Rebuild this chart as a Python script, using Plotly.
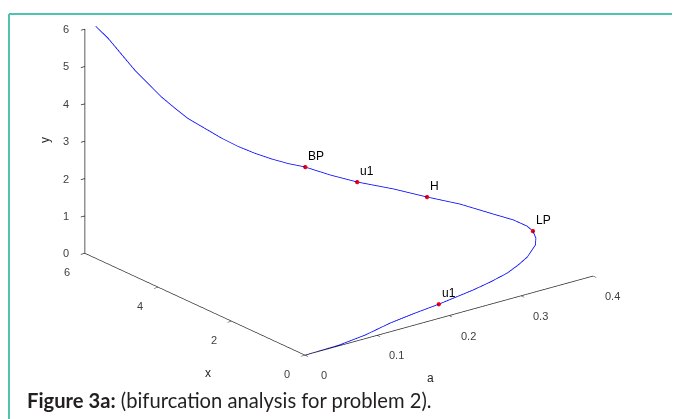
import plotly.graph_objects as go

# curve: parameter a, state x, state y
a_vals = [0.0, 0.047, 0.086, 0.125, 0.162, 0.197, 0.248, 0.275, 0.302, 0.321, 0.338,
          0.357, 0.363, 0.365, 0.362, 0.351, 0.332, 0.301, 0.268, 0.235, 0.198,
          0.172, 0.149, 0.132, 0.116, 0.101, 0.087, 0.074, 0.062, 0.050, 0.043,
          0.036, 0.031, 0.026, 0.023, 0.020, 0.015]
x_vals = [0.0, 0.01, 0.055, 0.135, 0.184, 0.221, 0.294, 0.346, 0.413, 0.491, 0.576,
          0.729, 0.833, 0.955, 1.058, 1.211, 1.389, 1.685, 1.935, 2.204, 2.466,
          2.690, 2.92, 3.045, 3.189, 3.348, 3.522, 3.723, 3.949, 4.176, 4.388,
          4.625, 4.89, 5.154, 5.455, 5.76, 6.0]
y_vals = [0.0, 0.01, 0.055, 0.135, 0.184, 0.221, 0.294, 0.346, 0.413, 0.491, 0.576,
          0.729, 0.833, 0.955, 1.058, 1.211, 1.389, 1.685, 1.935, 2.204, 2.466,
          2.690, 2.92, 3.045, 3.189, 3.348, 3.522, 3.723, 3.949, 4.176, 4.388,
          4.625, 4.89, 5.154, 5.455, 5.76, 6.0]

# special points
pt_labels = ["BP", "u1", "H", "LP", "u1"]
pt_a = [0.149, 0.198, 0.268, 0.365, 0.197]
pt_x = [2.92, 2.466, 1.935, 0.955, 0.221]
pt_y = [2.92, 2.466, 1.935, 0.955, 0.221]

a_ticks = [0, 0.1, 0.2, 0.3, 0.4]
a_tick_text = ["0", "0.1", "0.2", "0.3", "0.4"]
x_ticks = [0, 2, 4, 6]
x_tick_text = ["0", "2", "4", "6"]
y_ticks = [0, 1, 2, 3, 4, 5, 6]
y_tick_text = ["0", "1", "2", "3", "4", "5", "6"]

OFF = 8  # page offset of the plot div

fig = go.Figure()
fig.add_trace(go.Scatter3d(x=a_vals, y=x_vals, z=y_vals, mode="lines",
                           line=dict(color="#0000ff", width=1.6), showlegend=False,
                           hoverinfo="skip"))
fig.add_trace(go.Scatter3d(x=pt_a, y=pt_x, z=pt_y, mode="markers",
                           marker=dict(color="#ff0000", size=2.5),
                           showlegend=False, hoverinfo="skip"))

tick_font = dict(family="Arial", size=11, color="#404040")
title_font = dict(family="Arial", size=12, color="#262626")

scene_annots = []
# point labels
for lab, pa, px, py in zip(pt_labels, pt_a, pt_x, pt_y):
    scene_annots.append(dict(x=pa, y=px, z=py, text=lab, showarrow=False,
                             xanchor="left", yanchor="bottom", xshift=1, yshift=2,
                             font=dict(family="Arial", size=12, color="#000000")))
# tick labels (anchored at the tick values on each axis)
for v, s in zip(a_ticks, a_tick_text):
    scene_annots.append(dict(x=v, y=0, z=0, text=s, showarrow=False,
                             xanchor="center", yanchor="middle", xshift=19, yshift=-20,
                             font=tick_font))
for v, s in zip(x_ticks, x_tick_text):
    scene_annots.append(dict(x=0, y=v, z=0, text=s, showarrow=False,
                             xanchor="center", yanchor="middle", xshift=-18, yshift=-19,
                             font=tick_font))
for v, s in zip(y_ticks, y_tick_text):
    scene_annots.append(dict(x=0, y=6, z=v, text=s, showarrow=False,
                             xanchor="right", yanchor="middle", xshift=-14, yshift=0,
                             font=tick_font))
# axis titles
scene_annots.append(dict(x=0.2, y=0, z=0, text="a", showarrow=False,
                         xanchor="center", yanchor="middle", xshift=-19, yshift=-62,
                         font=title_font))
scene_annots.append(dict(x=0, y=3, z=0, text="x", showarrow=False,
                         xanchor="center", yanchor="middle", xshift=13, yshift=-69,
                         font=title_font))
scene_annots.append(dict(x=0, y=6, z=3, text="y", showarrow=False, textangle=-90,
                         xanchor="center", yanchor="middle", xshift=-40, yshift=1,
                         font=title_font))

axis_common = dict(showbackground=False, showgrid=False, zeroline=False,
                   showline=True, linecolor="#262626", linewidth=1.5,
                   ticks="outside", ticklen=5, tickcolor="#262626", tickwidth=1.5,
                   showticklabels=False, title=dict(text=""),
                   showspikes=False)

W, H = 680, 419
dvec = (-0.570, -0.740, 0.3565)
cen = (-0.0333, -0.1137, -0.2895)
t = 6.0
eye = dict(x=cen[0] + dvec[0] * t, y=cen[1] + dvec[1] * t, z=cen[2] + dvec[2] * t)

fig.update_layout(
    width=W, height=H,
    margin=dict(l=0, r=0, t=0, b=0),
    paper_bgcolor="white",
    scene=dict(
        domain=dict(x=[0, 1], y=[0, 1]),
        xaxis=dict(range=[0, 0.4], tickvals=a_ticks, **axis_common),
        yaxis=dict(range=[0, 6], tickvals=x_ticks, **axis_common),
        zaxis=dict(range=[0, 6], tickvals=y_ticks, **axis_common),
        aspectmode="manual",
        aspectratio=dict(x=1.736, y=1.722, z=1.145),
        camera=dict(eye=eye, up=dict(x=0, y=0, z=1),
                    center=dict(x=cen[0], y=cen[1], z=cen[2]),
                    projection=dict(type="orthographic")),
        annotations=scene_annots,
    ),
    shapes=[
        dict(type="line", xref="paper", yref="paper", x0=(9 - OFF) / W, x1=1, y0=1 - (14 - OFF) / H,
             y1=1 - (14 - OFF) / H, line=dict(color="#4ec3af", width=2)),
        dict(type="line", xref="paper", yref="paper", x0=(9 - OFF) / W, x1=(9 - OFF) / W,
             y0=1 - (14 - OFF) / H, y1=0, line=dict(color="#4ec3af", width=2)),
    ],
    annotations=[
        dict(xref="paper", yref="paper", x=(27 - OFF - 2) / W, y=1 - (400 - OFF) / H,
             xanchor="left", yanchor="middle",
             text="<b>Figure 3a:</b> (bifurcation analysis for problem 2).", showarrow=False,
             font=dict(family="Lato", size=20.2, color="#231f20")),
    ],
)

fig.write_html("out.html")
